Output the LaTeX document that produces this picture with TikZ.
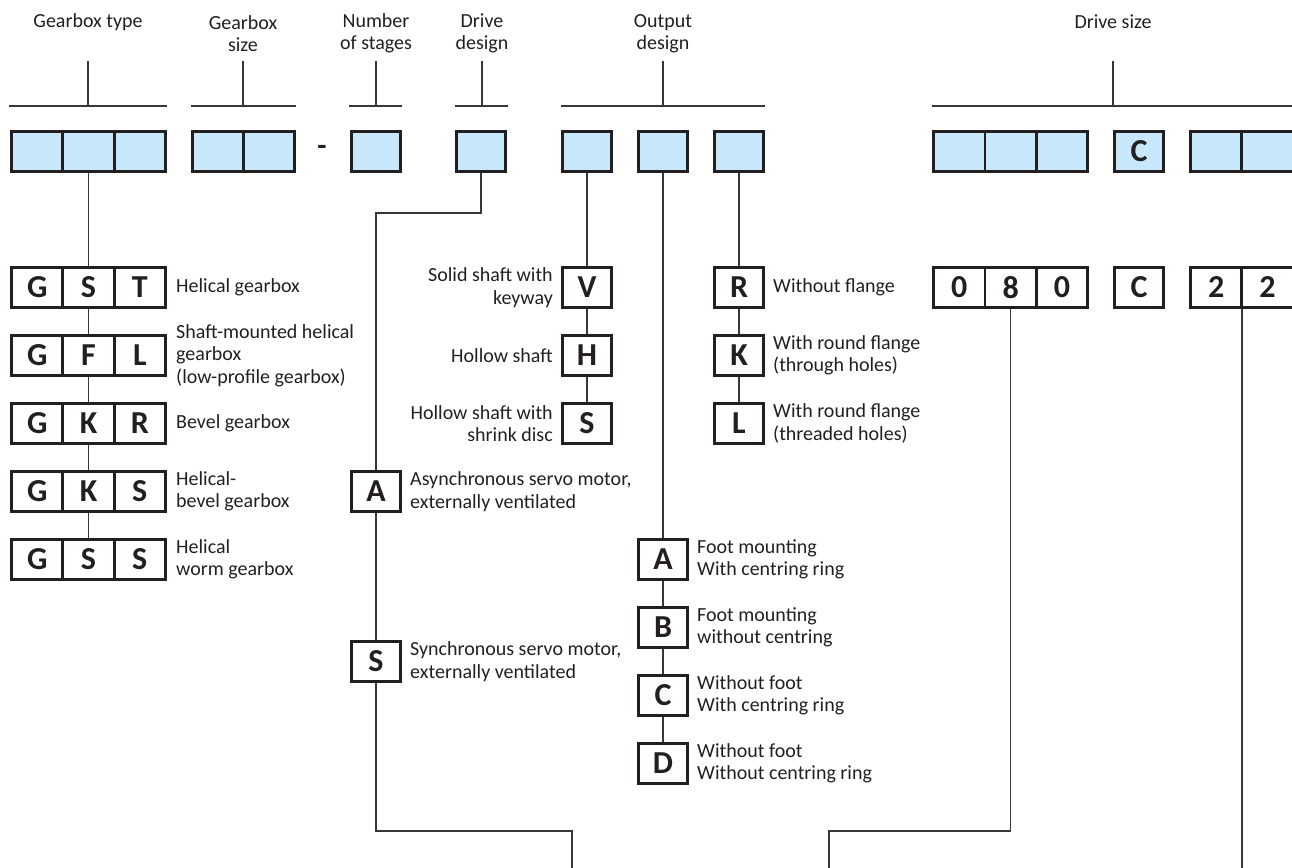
\documentclass[tikz,border=0pt]{standalone}
\usepackage{fontspec}
\setmainfont{Carlito}
\usetikzlibrary{backgrounds}
\definecolor{cellblue}{RGB}{198,232,250}
\definecolor{ink}{RGB}{35,31,32}
\definecolor{linec}{RGB}{55,55,55}
\tikzset{
 cellb/.style={draw=ink, line width=2.8pt, fill=cellblue, minimum width=51.3pt, minimum height=40pt, inner sep=0pt, outer sep=0pt, font=\bfseries\fontsize{32}{32}\selectfont, text=ink},
 cellw/.style={cellb, fill=white},
 sboxb/.style={cellb, minimum width=49pt},
 sboxw/.style={cellw, minimum width=49pt},
 lbl/.style={font=\fontsize{20}{22.5}\selectfont, text=ink, inner sep=0pt, align=left},
 lblr/.style={lbl, align=right},
 hdr/.style={lbl, align=center},
 conn/.style={draw=linec, line width=1.3pt},
}
\begin{document}
\begin{tikzpicture}[x=1pt,y=-1pt]
\useasboundingbox (0,0) rectangle (1292,867);
% headers
\node[hdr] (hGT) at (88,22) {Gearbox type};
\node[hdr] (hGS) at (243,33.5) {Gearbox\\size};
\node[hdr] (hNS) at (376,33.5) {Number\\of stages};
\node[hdr] (hDD) at (482,33.5) {Drive\\design};
\node[hdr] (hOD) at (663,33.5) {Output\\design};
\node[hdr] (hDS) at (1113,22) {Drive size};
% blue row
\node[cellb] (gt1) at (37.2,151.5) {};
\node[cellb] (gt2) at (88.5,151.5) {};
\node[cellb] (gt3) at (139.8,151.5) {};
\node[cellb] (gs1) at (217.8,151.5) {};
\node[cellb] (gs2) at (269.1,151.5) {};
\node[font=\bfseries\fontsize{30}{30}\selectfont, text=ink, inner sep=0pt] (dash) at (322,150) {-};
\node[sboxb] (ns) at (376,151.5) {};
\node[sboxb] (dd) at (481,151.5) {};
\node[sboxb] (o1) at (587,151.5) {};
\node[sboxb] (o2) at (663,151.5) {};
\node[sboxb] (o3) at (739,151.5) {};
\node[cellb] (ds1) at (959.3,151.5) {};
\node[cellb] (ds2) at (1010.6,151.5) {};
\node[cellb] (ds3) at (1061.9,151.5) {};
\node[sboxb] (dsc) at (1139,151.5) {C};
\node[cellb] (dv1) at (1216.2,151.5) {};
\node[cellb] (dv2) at (1267.5,151.5) {};
% gearbox types
\node[cellw] (g1a) at (37.2,287.5) {G};
\node[cellw] (g1b) at (88.5,287.5) {S};
\node[cellw] (g1c) at (139.8,287.5) {T};
\node[cellw] (g2a) at (37.2,355.5) {G};
\node[cellw] (g2b) at (88.5,355.5) {F};
\node[cellw] (g2c) at (139.8,355.5) {L};
\node[cellw] (g3a) at (37.2,423.5) {G};
\node[cellw] (g3b) at (88.5,423.5) {K};
\node[cellw] (g3c) at (139.8,423.5) {R};
\node[cellw] (g4a) at (37.2,491.5) {G};
\node[cellw] (g4b) at (88.5,491.5) {K};
\node[cellw] (g4c) at (139.8,491.5) {S};
\node[cellw] (g5a) at (37.2,559.5) {G};
\node[cellw] (g5b) at (88.5,559.5) {S};
\node[cellw] (g5c) at (139.8,559.5) {S};
\node[lbl, anchor=west] (t1) at (176,287.5) {Helical gearbox};
\node[lbl, anchor=west] (t2) at (176,355.5) {Shaft-mounted helical\\gearbox\\(low-profile gearbox)};
\node[lbl, anchor=west] (t3) at (176,423.5) {Bevel gearbox};
\node[lbl, anchor=west] (t4) at (176,491.5) {Helical-\\bevel gearbox};
\node[lbl, anchor=west] (t5) at (176,559.5) {Helical\\worm gearbox};
% shaft
\node[sboxw] (V) at (587,287.5) {V};
\node[sboxw] (H) at (587,355.5) {H};
\node[sboxw] (Ss) at (587,423.5) {S};
\node[lblr, anchor=east] (tV) at (553,287.5) {Solid shaft with\\keyway};
\node[lblr, anchor=east] (tH) at (553,355.5) {Hollow shaft};
\node[lblr, anchor=east] (tS) at (553,423.5) {Hollow shaft with\\shrink disc};
% flange
\node[sboxw] (R) at (739,287.5) {R};
\node[sboxw] (K) at (739,355.5) {K};
\node[sboxw] (L) at (739,423.5) {L};
\node[lbl, anchor=west] (tR) at (773,287.5) {Without flange};
\node[lbl, anchor=west] (tK) at (773,355.5) {With round flange\\(through holes)};
\node[lbl, anchor=west] (tL) at (773,423.5) {With round flange\\(threaded holes)};
% drive design
\node[sboxw] (dA) at (376,491.5) {A};
\node[sboxw] (dS) at (376,661.5) {S};
\node[lbl, anchor=west] (tdA) at (410,491.5) {Asynchronous servo motor,\\externally ventilated};
\node[lbl, anchor=west] (tdS) at (410,661.5) {Synchronous servo motor,\\externally ventilated};
% mounting
\node[sboxw] (oA) at (663,559.5) {A};
\node[sboxw] (oB) at (663,627.5) {B};
\node[sboxw] (oC) at (663,695.5) {C};
\node[sboxw] (oD) at (663,763.5) {D};
\node[lbl, anchor=west] (toA) at (697,559.5) {Foot mounting\\With centring ring};
\node[lbl, anchor=west] (toB) at (697,627.5) {Foot mounting\\without centring};
\node[lbl, anchor=west] (toC) at (697,695.5) {Without foot\\With centring ring};
\node[lbl, anchor=west] (toD) at (697,763.5) {Without foot\\Without centring ring};
% drive size
\node[cellw] (w1) at (959.3,287.5) {0};
\node[cellw] (w2) at (1010.6,287.5) {8};
\node[cellw] (w3) at (1061.9,287.5) {0};
\node[sboxw] (wc) at (1139,287.5) {C};
\node[cellw] (v1) at (1216.2,287.5) {2};
\node[cellw] (v2) at (1267.5,287.5) {2};
% coordinates
\coordinate (j1) at (376,213);
\coordinate (j2) at (572,831);
\coordinate (e1) at (572,870);
\coordinate (j3) at (829,831);
\coordinate (e2) at (829,870);
\coordinate (s3) at (1242,307);
\coordinate (e3) at (1242,870);
\begin{scope}[on background layer]
% brackets
\draw[conn] (88,61) -- (88,106);  \draw[conn] (9,106) -- (167,106);
\draw[conn] (243,61) -- (243,106); \draw[conn] (191,106) -- (296,106);
\draw[conn] (376,61) -- (376,106); \draw[conn] (349,106) -- (402,106);
\draw[conn] (482,61) -- (482,106); \draw[conn] (455,106) -- (508,106);
\draw[conn] (663,61) -- (663,106); \draw[conn] (561,106) -- (765,106);
\draw[conn] (1113,61) -- (1113,106); \draw[conn] (932,106) -- (1292,106);
% connectors
\draw[conn] (gt2.south) -- (g1b.north);
\draw[conn] (g1b.south) -- (g2b.north);
\draw[conn] (g2b.south) -- (g3b.north);
\draw[conn] (g3b.south) -- (g4b.north);
\draw[conn] (g4b.south) -- (g5b.north);
\draw[conn] (dd.south) |- (j1) -- (dA.north);
\draw[conn] (dA.south) -- (dS.north);
\draw[conn] (dS.south) |- (j2) -- (e1);
\draw[conn] (o1.south) -- (V.north);
\draw[conn] (V.south) -- (H.north);
\draw[conn] (H.south) -- (Ss.north);
\draw[conn] (o2.south) -- (oA.north);
\draw[conn] (oA.south) -- (oB.north);
\draw[conn] (oB.south) -- (oC.north);
\draw[conn] (oC.south) -- (oD.north);
\draw[conn] (o3.south) -- (R.north);
\draw[conn] (R.south) -- (K.north);
\draw[conn] (K.south) -- (L.north);
\draw[conn] (w2.south) |- (j3) -- (e2);
\draw[conn] (s3) -- (e3);
\end{scope}
\end{tikzpicture}
\end{document}
